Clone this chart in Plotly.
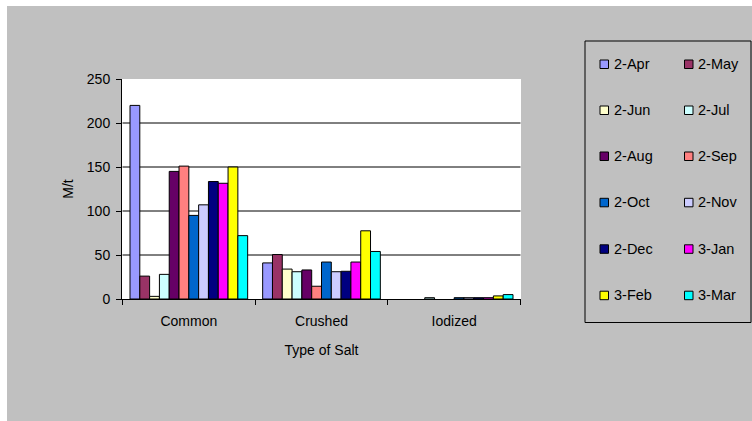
import plotly.graph_objects as go

# Salt production by type, monthly series (Apr 2002 - Mar 2003)
categories = ["Common", "Crushed", "Iodized"]
months = ["2-Apr", "2-May", "2-Jun", "2-Jul", "2-Aug", "2-Sep",
          "2-Oct", "2-Nov", "2-Dec", "3-Jan", "3-Feb", "3-Mar"]
# None = no production recorded
values = {
    "2-Apr": [220, 41, None],
    "2-May": [26, 50.5, None],
    "2-Jun": [3, 34, None],
    "2-Jul": [28, 31, 1.5],
    "2-Aug": [145, 33, None],
    "2-Sep": [151, 14.5, None],
    "2-Oct": [95, 42, 1.5],
    "2-Nov": [107, 31, 1.5],
    "2-Dec": [133.5, 31.5, 1.5],
    "3-Jan": [131.5, 42, 1.5],
    "3-Feb": [150, 77.5, 3.5],
    "3-Mar": [72, 54, 5],
}
colors = ["#9999FF", "#993366", "#FFFFCC", "#CCFFFF", "#660066", "#FF8080",
          "#0066CC", "#CCCCFF", "#000080", "#FF00FF", "#FFFF00", "#00FFFF"]
y_ticks = [0, 50, 100, 150, 200, 250]
grid_values = [50, 100, 150, 200]

W, H = 752, 421
L, R, T, B = 122, 231, 79, 122
PW, PH = W - L - R, H - T - B
FONT = "Arial, Liberation Sans, sans-serif"
GRAY = "#c0c0c0"


def px(x):
    return (x - L) / PW


def py(y):
    return 1 - (y - T) / PH


fig = go.Figure()
for m, c in zip(months, colors):
    fig.add_trace(go.Bar(
        name=m, x=categories, y=values[m],
        marker=dict(color=c, line=dict(color="black", width=1)),
        showlegend=False,
    ))

shapes = []
# horizontal gridlines behind the bars
for g in grid_values:
    shapes.append(dict(type="line", xref="x", yref="y", x0=-0.5, x1=2.5,
                       y0=g, y1=g, layer="below",
                       line=dict(color="black", width=1)))
# white outer border strips
shapes.append(dict(type="rect", xref="paper", yref="paper",
                   x0=px(0), x1=px(W), y0=py(0), y1=py(6),
                   fillcolor="white", line=dict(width=0), layer="above"))
shapes.append(dict(type="rect", xref="paper", yref="paper",
                   x0=px(0), x1=px(7), y0=py(0), y1=py(H),
                   fillcolor="white", line=dict(width=0), layer="above"))

# legend box
shapes.append(dict(type="rect", xref="paper", yref="paper",
                   x0=px(585), x1=px(751), y0=py(41), y1=py(322.5),
                   fillcolor=GRAY, line=dict(color="black", width=1),
                   layer="above"))

annotations = []
col_sq = [600, 684.5]
col_tx = [612, 696]
row_y = [64, 110, 156, 202.3, 248.8, 295.2]
for i, (m, c) in enumerate(zip(months, colors)):
    col, row = i % 2, i // 2
    cy = row_y[row]
    shapes.append(dict(type="rect", xref="paper", yref="paper",
                       x0=px(col_sq[col]), x1=px(col_sq[col] + 8.5),
                       y0=py(cy - 4), y1=py(cy + 4.5),
                       fillcolor=c, line=dict(color="black", width=1),
                       layer="above"))
    annotations.append(dict(xref="paper", yref="paper",
                            x=px(col_tx[col]), y=py(cy),
                            xanchor="left", yanchor="middle",
                            text=m, showarrow=False,
                            font=dict(family=FONT, size=14.5, color="black")))

fig.update_layout(
    width=W, height=H,
    margin=dict(l=L, r=R, t=T, b=B),
    paper_bgcolor=GRAY,
    plot_bgcolor="white",
    barmode="group",
    bargap=0.113,
    bargroupgap=0,
    font=dict(family=FONT, size=14, color="black"),
    shapes=shapes,
    annotations=annotations,
    xaxis=dict(
        title=dict(text="Type of Salt", standoff=17,
                   font=dict(family=FONT, size=14)),
        showline=True, linecolor="black", linewidth=1,
        ticks="outside", tickson="boundaries", ticklen=5,
        tickcolor="black", showgrid=False,
        ticklabelstandoff=9,
    ),
    yaxis=dict(
        title=dict(text="M/t", standoff=9,
                   font=dict(family=FONT, size=14)),
        range=[0, 250], tickvals=y_ticks,
        showline=True, linecolor="black", linewidth=1,
        ticks="outside", ticklen=5, tickcolor="black",
        showgrid=False, zeroline=False,
        ticklabelstandoff=3,
    ),
)

fig.write_html("out.html")
